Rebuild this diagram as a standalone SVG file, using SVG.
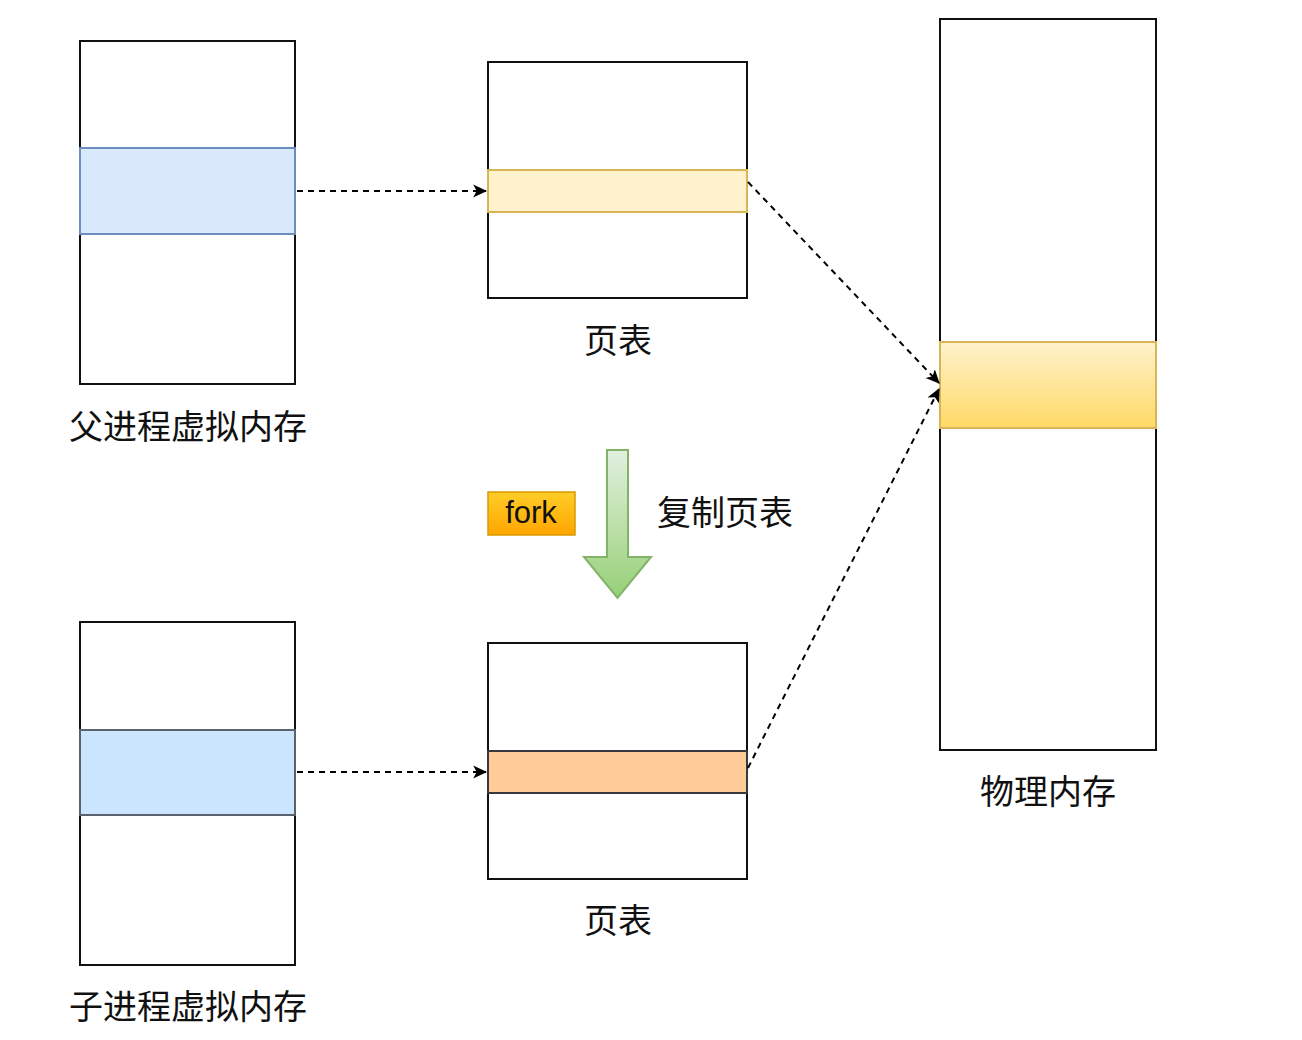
<svg xmlns="http://www.w3.org/2000/svg" width="1302" height="1040" viewBox="0 0 1302 1040">
<style>
.box{fill:#ffffff;stroke:#111111;stroke-width:2}
.lbl{font-family:"Noto Sans CJK SC","Liberation Sans",sans-serif;font-size:34px;fill:#111111;text-anchor:middle;dominant-baseline:central}
.conn{fill:none;stroke:#000000;stroke-width:2;stroke-dasharray:6 5}
</style>
<defs>
<marker id="arr" viewBox="0 0 12 12" refX="11" refY="6" markerWidth="14" markerHeight="14" orient="auto" markerUnits="userSpaceOnUse">
<path d="M0,0.5 L12,6 L0,11.5 L3,6 Z" fill="#000"/>
</marker>
<linearGradient id="gPhys" x1="0" y1="0" x2="0" y2="1">
<stop offset="0" stop-color="#fff2cc"/>
<stop offset="1" stop-color="#ffd966"/>
</linearGradient>
<linearGradient id="gFork" x1="0" y1="0" x2="0" y2="1">
<stop offset="0" stop-color="#ffcd28"/>
<stop offset="1" stop-color="#ffa500"/>
</linearGradient>
<linearGradient id="gGreen" x1="0" y1="0" x2="0" y2="1">
<stop offset="0" stop-color="#e2f0df"/>
<stop offset="1" stop-color="#97d077"/>
</linearGradient>
</defs>

<g id="parent-vm">
<rect class="box" x="80" y="41" width="215" height="343"/>
<rect x="80" y="148" width="215" height="86" fill="#dae8fc" stroke="#6c8ebf" stroke-width="2"/>
<text class="lbl" x="188" y="424">父进程虚拟内存</text>
</g>

<g id="child-vm">
<rect class="box" x="80" y="622" width="215" height="343"/>
<rect x="80" y="730" width="215" height="85" fill="#cce5ff" stroke="#5a6270" stroke-width="2"/>
<text class="lbl" x="188" y="1004">子进程虚拟内存</text>
</g>

<g id="page-table-parent">
<rect class="box" x="488" y="62" width="259" height="236"/>
<rect x="488" y="170" width="259" height="42" fill="#fff2cc" stroke="#d6b656" stroke-width="2"/>
<text class="lbl" x="618" y="338">页表</text>
</g>

<g id="page-table-child">
<rect class="box" x="488" y="643" width="259" height="236"/>
<rect x="488" y="751" width="259" height="42" fill="#ffcc99" stroke="#36393d" stroke-width="2"/>
<text class="lbl" x="618" y="918">页表</text>
</g>

<g id="physical-memory">
<rect class="box" x="940" y="19" width="216" height="731"/>
<rect x="940" y="342" width="216" height="86" fill="url(#gPhys)" stroke="#d6b656" stroke-width="2"/>
<text class="lbl" x="1048" y="789">物理内存</text>
</g>

<g id="fork-label">
<rect x="488" y="492" width="87" height="43" fill="url(#gFork)" stroke="#d79b00" stroke-width="1.5"/>
<text class="lbl" x="531" y="512" style="font-family:'Liberation Sans','Noto Sans',sans-serif;font-size:31px">fork</text>
</g>

<g id="copy-arrow">
<path d="M607,450 L628,450 L628,557 L651,557 L617.5,598 L584,557 L607,557 Z" fill="url(#gGreen)" stroke="#82b366" stroke-width="2"/>
<text class="lbl" x="725" y="510">复制页表</text>
</g>

<g id="connectors">
<path class="conn" d="M297,191 L486,191" marker-end="url(#arr)"/>
<path class="conn" d="M297,772 L486,772" marker-end="url(#arr)"/>
<path class="conn" d="M748,182 L939,383" marker-end="url(#arr)"/>
<path class="conn" d="M748,768 L939,389" marker-end="url(#arr)"/>
</g>
</svg>
